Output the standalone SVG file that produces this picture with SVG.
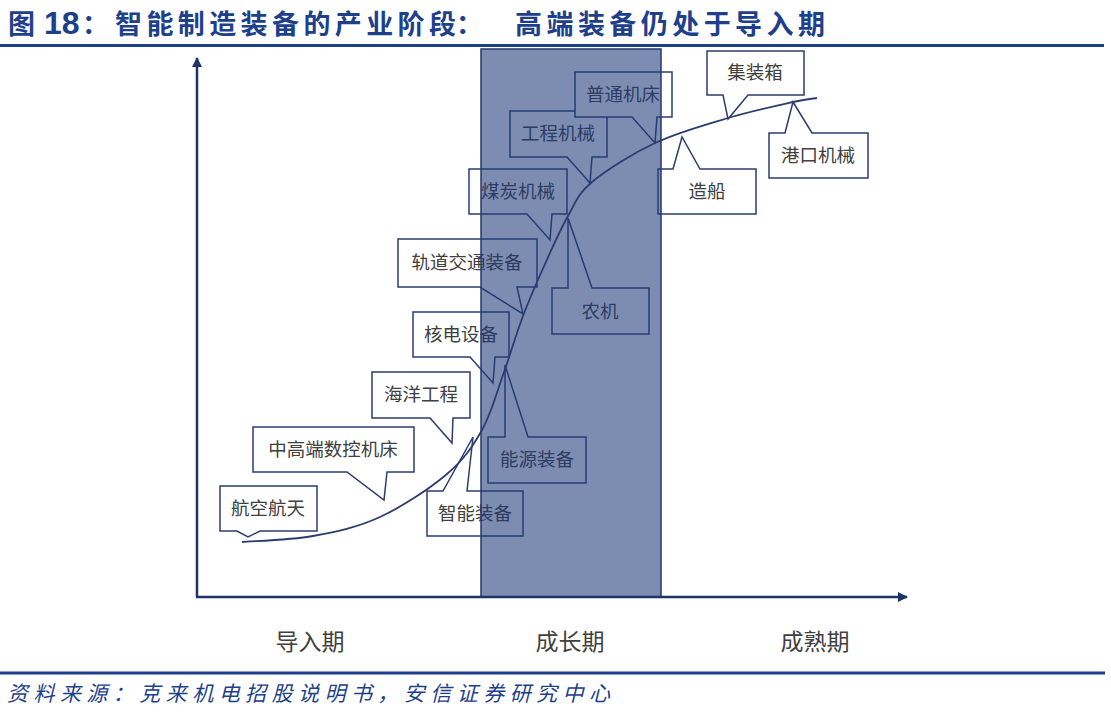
<svg xmlns="http://www.w3.org/2000/svg" width="1111" height="716" viewBox="0 0 1111 716">
<defs>
<style>
.title{font-family:"Noto Sans CJK SC","Noto Sans",sans-serif;font-weight:bold;font-size:27px;fill:#1d3f8c}
.num{font-family:"Liberation Sans",Arial,sans-serif;font-weight:bold;font-size:32px;fill:#1d3f8c}
.src{font-family:"Noto Sans CJK SC",sans-serif;font-style:italic;font-size:21px;fill:#1d3f8c}
.call{fill:#ffffff;stroke:#2c3c6e;stroke-width:1.5;stroke-linejoin:miter}
.lbl{font-family:"Noto Sans CJK SC","Noto Sans",sans-serif;font-size:18.5px;fill:#404040;text-anchor:middle}
.stage{font-family:"Noto Sans CJK SC","Noto Sans",sans-serif;font-size:23px;fill:#404040;text-anchor:middle}
.axis{stroke:#1f3366;stroke-width:2.5;fill:none}
.rule{stroke:#1d3f8c;stroke-width:3}
</style>
<marker id="arr" viewBox="0 0 10 10" refX="9" refY="5" markerWidth="4" markerHeight="4" orient="auto" markerUnits="strokeWidth">
<path d="M0,0 L10,5 L0,10 Z" fill="#1f3366"/>
</marker>
</defs>
<rect width="1111" height="716" fill="#ffffff"/>

<g id="title">
<text class="title" x="8" y="34">图</text>
<text class="num" x="44" y="34">18</text>
<text class="title" x="82" y="34">：</text>
<text class="title" x="115" y="34" textLength="341" lengthAdjust="spacing">智能制造装备的产业阶段</text>
<text class="title" x="456" y="34">：</text>
<text class="title" x="515" y="34" textLength="310" lengthAdjust="spacing">高端装备仍处于导入期</text>
</g>
<line class="rule" x1="0" y1="45.5" x2="1104" y2="45.5"/>

<g id="callouts">
<g id="n-hangkong"><path class="call" d="M220,486 H317 V531 H260 L248,537 L237,531 H220 Z"/><text class="lbl" x="268" y="515">航空航天</text></g>
<g id="n-shukong"><path class="call" d="M253,427 H414 V472 H387 L384,500 L347,472 H253 Z"/><text class="lbl" x="333" y="456">中高端数控机床</text></g>
<g id="n-haiyang"><path class="call" d="M372,372 H470 V418 H453 L452,443 L430,418 H372 Z"/><text class="lbl" x="421" y="401">海洋工程</text></g>
<g id="n-hedian"><path class="call" d="M413,312 H509 V357 H495 L493,383 L470,357 H413 Z"/><text class="lbl" x="461" y="341">核电设备</text></g>
<g id="n-guidao"><path class="call" d="M398,239 H537 V287 H517 L523,314 L480,287 H398 Z"/><text class="lbl" x="467" y="269">轨道交通装备</text></g>
<g id="n-meitan"><path class="call" d="M469,169 H567 V214 H552 L550,240 L527,214 H469 Z"/><text class="lbl" x="518" y="198">煤炭机械</text></g>
<g id="n-gongcheng"><path class="call" d="M510,111 H607 V157 H592 L590,183 L567,157 H510 Z"/><text class="lbl" x="558" y="140">工程机械</text></g>
<g id="n-putong"><path class="call" d="M575,72 H672 V117 H657 L655,143 L632,117 H575 Z"/><text class="lbl" x="623" y="101">普通机床</text></g>
<g id="n-jizhuang"><path class="call" d="M707,51 H804 V95 H748 L728,119 L723,95 H707 Z"/><text class="lbl" x="755" y="79">集装箱</text></g>
<g id="n-zhineng"><path class="call" d="M427,491 H443 L473,437 L467,491 H523 V536 H427 Z"/><text class="lbl" x="475" y="520">智能装备</text></g>
<g id="n-nengyuan"><path class="call" d="M488,437 H505 L505,365 L528,437 H586 V483 H488 Z"/><text class="lbl" x="537" y="466">能源装备</text></g>
<g id="n-nongji"><path class="call" d="M552,288 H568 L568,218 L592,288 H649 V334 H552 Z"/><text class="lbl" x="600" y="318">农机</text></g>
<g id="n-zaochuan"><path class="call" d="M658,169 H673 L682,137 L700,169 H756 V214 H658 Z"/><text class="lbl" x="707" y="198">造船</text></g>
<g id="n-gangkou"><path class="call" d="M769,133 H785 L793,102 L812,133 H868 V178 H769 Z"/><text class="lbl" x="818" y="162">港口机械</text></g>
</g>

<g id="growth-band">
<rect x="481" y="49" width="180" height="548" fill="#1f3a7a" fill-opacity="0.58" stroke="#26386c" stroke-width="1.5"/>
</g>

<g id="connectors">
<path d="M242,542 C253.8,541 290,540.2 313,536 C336,531.8 357.7,527.3 380,517 C402.3,506.7 430,488.5 447,474 C464,459.5 472.7,446.5 482,430 C491.3,413.5 496.2,394 503,375 C509.8,356 516,334.5 523,316 C530,297.5 537.5,280.7 545,264 C552.5,247.3 560.2,229.7 568,216 C575.8,202.3 577.5,194.2 592,182 C606.5,169.8 632.3,153.7 655,143 C677.7,132.3 705,124.8 728,118 C751,111.2 778.2,105.3 793,102 C807.8,98.7 813,98.7 817,98" fill="none" stroke="#2c3c70" stroke-width="1.8"/>
<line class="axis" x1="197" y1="597" x2="197" y2="58" marker-end="url(#arr)"/>
<line class="axis" x1="196" y1="597" x2="907" y2="597" marker-end="url(#arr)"/>
</g>

<g id="stages">
<text class="stage" x="310" y="650">导入期</text>
<text class="stage" x="570" y="650">成长期</text>
<text class="stage" x="815" y="650">成熟期</text>
</g>

<line class="rule" x1="0" y1="673" x2="1105" y2="673"/>
<text class="src" x="7" y="701" textLength="603" lengthAdjust="spacing">资料来源：克来机电招股说明书，安信证券研究中心</text>
</svg>
